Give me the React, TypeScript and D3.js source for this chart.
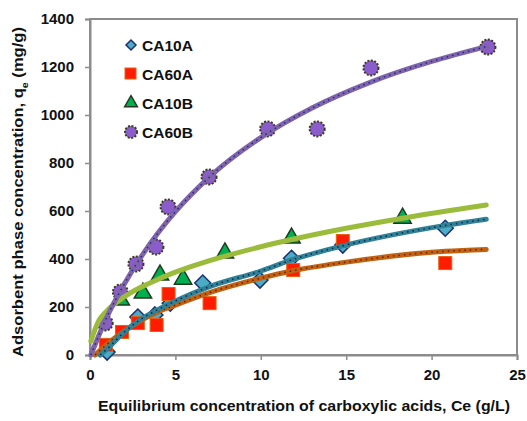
import * as d3 from 'd3';
import { useEffect, useRef } from 'react';

// measured points (Ce g/L, qe mg/g)
const ca10aX = [1.0, 2.8, 3.8, 4.7, 6.6, 9.95, 11.8, 14.8, 20.8];
const ca10aY = [12, 158, 167, 216, 300, 312, 403, 458, 528];
const ca60aX = [0.93, 1.87, 2.8, 3.9, 4.6, 7.0, 11.9, 14.8, 20.8];
const ca60aY = [42, 96, 133, 125, 254, 216, 354, 475, 383];
const ca10bX = [1.8, 3.1, 4.1, 5.45, 7.9, 11.8, 18.3];
const ca10bY = [229, 258, 333, 316, 425, 487, 570];
const ca60bX = [0.89, 1.78, 2.69, 3.86, 4.57, 6.97, 10.4, 13.3, 16.45, 23.3];
const ca60bY = [133, 262, 379, 450, 617, 742, 942, 942, 1196, 1283];

// trend lines
const fit10aX = [0.6, 1, 2, 3, 4, 5, 7, 10, 11.8, 14.8, 20.8, 23.2];
const fit10aY = [0, 25, 95, 150, 190, 225, 285, 350, 396, 455, 540, 566];
const fit60aX = [0.3, 1, 2, 3, 4, 5, 7, 10, 11.8, 14.8, 20.8, 23.2];
const fit60aY = [0, 45, 100, 145, 180, 208, 260, 320, 350, 385, 432, 440];
const fit10bX = [0.05, 0.5, 1, 2, 3, 4, 5, 7, 10, 11.8, 15, 18.3, 23.2];
const fit10bY = [58, 141, 185, 242, 283, 316, 345, 393, 451, 481, 528, 570, 625];
const fit60bX = [0.05, 1, 2, 3, 4, 5, 7, 10, 13, 16.4, 20, 23.2];
const fit60bY = [0, 160, 295, 410, 510, 597, 742, 906, 1029, 1136, 1223, 1285];

const xTicks = [0, 5, 10, 15, 20, 25];
const yTicks = [0, 200, 400, 600, 800, 1000, 1200, 1400];
const seriesNames = ['CA10A', 'CA60A', 'CA10B', 'CA60B'];

function App() {
  const svgRef = useRef<SVGSVGElement>(null);

  useEffect(() => {
    const svg = d3.select(svgRef.current);
    svg.selectAll('*').remove();

    const W = 527, H = 421;
    const margin = { top: 19, right: 10, bottom: 66, left: 90 };
    const font = "'Liberation Sans', Arial, sans-serif";

    const x = d3.scaleLinear().domain([0, 25]).range([margin.left, W - margin.right]);
    const y = d3.scaleLinear().domain([0, 1400]).range([H - margin.bottom, margin.top]);

    const zip = (xs: number[], ys: number[]) => xs.map((v, i) => [v, ys[i]] as [number, number]);
    const diamond = (r: number) => `M0,${-r}L${r},0L0,${r}L${-r},0Z`;

    // frame
    svg.append('rect')
      .attr('x', x(0)).attr('y', y(1400))
      .attr('width', x(25) - x(0)).attr('height', y(0) - y(1400))
      .attr('fill', 'white').attr('stroke', '#8c8c8c').attr('stroke-width', 2);

    const xAxis = d3.axisBottom(x).tickValues(xTicks).tickSize(5).tickPadding(9).tickFormat(d3.format('d'));
    const yAxis = d3.axisLeft(y).tickValues(yTicks).tickSize(5).tickPadding(11).tickFormat(d3.format('d'));

    const gx = svg.append('g').attr('transform', `translate(0,${y(0)})`).call(xAxis);
    const gy = svg.append('g').attr('transform', `translate(${x(0)},0)`).call(yAxis);
    [gx, gy].forEach(g => {
      g.select('.domain').attr('stroke', '#8c8c8c').attr('stroke-width', 2);
      g.selectAll('.tick line').attr('stroke', '#8c8c8c').attr('stroke-width', 1.5);
      g.selectAll('.tick text')
        .attr('fill', '#111').style('font-family', font)
        .style('font-size', '15px').style('font-weight', 'bold');
    });

    const line = d3.line<[number, number]>()
      .x(d => x(d[0])).y(d => y(d[1]))
      .curve(d3.curveMonotoneX);

    const markers = svg.append('g');

    // CA10A diamonds
    markers.selectAll('.dia').data(zip(ca10aX, ca10aY)).join('path')
      .attr('d', diamond(8))
      .attr('transform', d => `translate(${x(d[0])},${y(d[1])})`)
      .attr('fill', '#4bacc6').attr('stroke', '#1f2f6f').attr('stroke-width', 1.5);

    // CA60A squares
    markers.selectAll('.sq').data(zip(ca60aX, ca60aY)).join('rect')
      .attr('x', d => x(d[0]) - 6.5).attr('y', d => y(d[1]) - 6.5)
      .attr('width', 13).attr('height', 13)
      .attr('fill', '#ff1c00').attr('stroke', '#e8600a').attr('stroke-width', 1);

    // CA10B triangles
    markers.selectAll('.tri').data(zip(ca10bX, ca10bY)).join('path')
      .attr('d', d3.symbol(d3.symbolTriangle, 130)())
      .attr('transform', d => `translate(${x(d[0])},${y(d[1])})`)
      .attr('fill', '#00b050').attr('stroke', '#203a20').attr('stroke-width', 1.5);

    // CA60B circles
    markers.selectAll('.cir').data(zip(ca60bX, ca60bY)).join('circle')
      .attr('cx', d => x(d[0])).attr('cy', d => y(d[1])).attr('r', 7.5)
      .attr('fill', '#8a5ccc').attr('stroke', '#3c3c1e').attr('stroke-width', 2)
      .attr('stroke-dasharray', '2,1.5');

    // trend lines
    const fits = [
      { pts: zip(fit10bX, fit10bY), color: '#9bbb3b', dots: null },
      { pts: zip(fit60aX, fit60aY), color: '#c0620f', dots: '#6a1a10' },
      { pts: zip(fit10aX, fit10aY), color: '#2f8298', dots: '#16233c' },
      { pts: zip(fit60bX, fit60bY), color: '#8064a8', dots: '#1c2a9a' },
    ];
    fits.forEach(f => {
      svg.append('path').attr('d', line(f.pts)).attr('fill', 'none')
        .attr('stroke', f.color).attr('stroke-width', 5).attr('stroke-linecap', 'round');
      if (f.dots) {
        svg.append('path').attr('d', line(f.pts)).attr('fill', 'none')
          .attr('stroke', f.dots).attr('stroke-width', 1.5).attr('stroke-dasharray', '1.5,4');
      }
    });

    // legend
    const legY = [45, 74, 103, 132];
    const lg = svg.append('g');
    lg.append('path').attr('d', diamond(5))
      .attr('transform', `translate(131,${legY[0]})`)
      .attr('fill', '#4bacc6').attr('stroke', '#1f2f6f').attr('stroke-width', 1.5);
    lg.append('rect').attr('x', 125).attr('y', legY[1] - 6).attr('width', 11).attr('height', 11)
      .attr('fill', '#ff1c00').attr('stroke', '#e8600a');
    lg.append('path').attr('d', d3.symbol(d3.symbolTriangle, 70)())
      .attr('transform', `translate(131,${legY[2]})`)
      .attr('fill', '#00b050').attr('stroke', '#203a20').attr('stroke-width', 1.5);
    lg.append('circle').attr('cx', 131).attr('cy', legY[3]).attr('r', 6)
      .attr('fill', '#8a5ccc').attr('stroke', '#3c3c1e').attr('stroke-width', 2)
      .attr('stroke-dasharray', '2,1.5');
    seriesNames.forEach((s, i) => {
      lg.append('text').attr('x', 142).attr('y', legY[i] + 6)
        .attr('textLength', 51).attr('lengthAdjust', 'spacingAndGlyphs')
        .style('font-family', font).style('font-size', '14px').style('font-weight', 'bold')
        .attr('fill', '#111').text(s);
    });

    // axis titles
    svg.append('text')
      .attr('x', 304).attr('y', 411).attr('text-anchor', 'middle')
      .attr('textLength', 412).attr('lengthAdjust', 'spacingAndGlyphs')
      .style('font-family', font).style('font-size', '14px').style('font-weight', 'bold')
      .attr('fill', '#111')
      .text('Equilibrium concentration of carboxylic acids, Ce (g/L)');

    const yt = svg.append('text')
      .attr('transform', 'translate(23,192) rotate(-90)')
      .attr('text-anchor', 'middle')
      .attr('textLength', 330).attr('lengthAdjust', 'spacingAndGlyphs')
      .style('font-family', font).style('font-size', '14px').style('font-weight', 'bold')
      .attr('fill', '#111');
    yt.append('tspan').text('Adsorbent phase concentration, q');
    yt.append('tspan').attr('baseline-shift', 'sub').style('font-size', '9px').text('e');
    yt.append('tspan').text(' (mg/g)');
  }, []);

  return (
    <div style={{ position: 'absolute', left: 0, top: 0, width: 527, height: 421, background: 'white' }}>
      <svg ref={svgRef} width={527} height={421} style={{ display: 'block' }}></svg>
    </div>
  );
}

export default App;
